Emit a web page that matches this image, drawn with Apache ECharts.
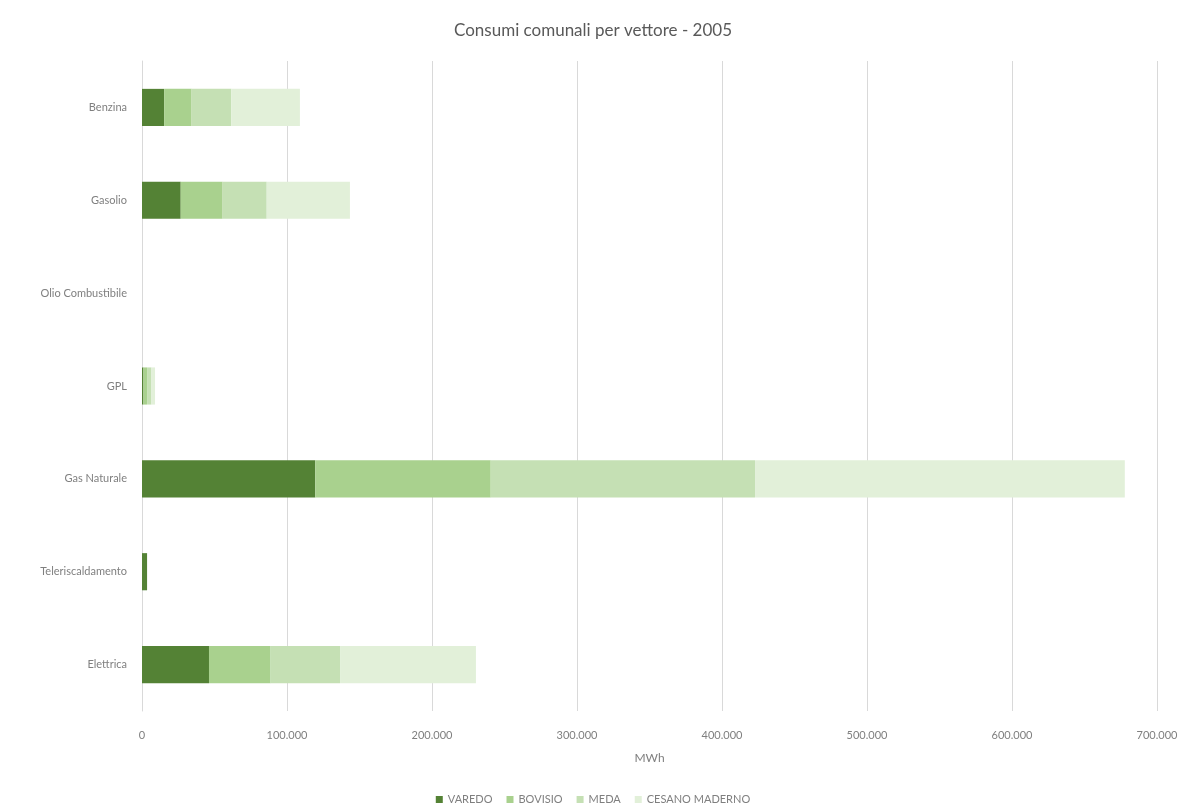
<!DOCTYPE html>
<html>
<head>
<meta charset="utf-8">
<script src="https://cdn.jsdelivr.net/npm/echarts@6/dist/echarts.min.js"></script>
<style>html,body{margin:0;padding:0;background:#fff;}#chart{width:1186px;height:810px;}</style>
</head>
<body>
<div id="chart"></div>
<script>
const categories = ['Benzina','Gasolio','Olio Combustibile','GPL','Gas Naturale','Teleriscaldamento','Elettrica'];
const seriesNames = ['VAREDO','BOVISIO','MEDA','CESANO MADERNO'];
const varedo  = [15300, 26700, 0, 1000, 119500, 3500, 46200];
const bovisio = [18900, 28900, 0, 2500, 121000, 0, 42500];
const meda    = [27400, 30400, 0, 3000, 182300, 0, 47900];
const cesano  = [47300, 57400, 0, 2500, 255000, 0, 93700];
const xTicks = {min: 0, max: 700000, interval: 100000};
const colors = ['#548235','#a9d18e','#c5e0b4','#e2f0d9'];

const font = 'Lato, "Open Sans", sans-serif';
const fmt = v => v === 0 ? '0' : String(v).replace(/\B(?=(\d{3})+(?!\d))/g, '.');
const chart = echarts.init(document.getElementById('chart'));
const dataSets = [varedo, bovisio, meda, cesano];
chart.setOption({
  backgroundColor: '#fff',
  animation: false,
  title: {
    text: 'Consumi comunali per vettore - 2005',
    left: 'center', top: 17,
    textStyle: {fontFamily: font, fontSize: 17, fontWeight: 'normal', color: '#595959'}
  },
  legend: {
    data: seriesNames, bottom: 0, left: 'center',
    itemWidth: 7, itemHeight: 7, itemGap: 14,
    icon: 'rect',
    textStyle: {fontFamily: font, fontSize: 11, color: '#7f7f7f'}
  },
  grid: {left: 142, right: 29, top: 61, bottom: 99, containLabel: false},
  xAxis: {
    type: 'value', min: xTicks.min, max: xTicks.max, interval: xTicks.interval,
    name: 'MWh', nameLocation: 'middle', nameGap: 41,
    nameTextStyle: {fontFamily: font, fontSize: 12, color: '#7f7f7f'},
    axisLabel: {formatter: fmt, fontFamily: font, fontSize: 11, color: '#7f7f7f', margin: 19},
    axisLine: {show: false}, axisTick: {show: false},
    splitLine: {lineStyle: {color: '#d9d9d9', width: 1}}
  },
  yAxis: {
    type: 'category', data: categories, inverse: true,
    axisLine: {show: true, lineStyle: {color: '#d9d9d9'}},
    axisTick: {show: false},
    axisLabel: {fontFamily: font, fontSize: 11, color: '#7f7f7f', margin: 15}
  },
  series: seriesNames.map((n, i) => ({
    name: n, type: 'bar', stack: 'total', data: dataSets[i],
    barCategoryGap: '60%',
    itemStyle: {color: colors[i]}
  }))
});
</script>
</body>
</html>
